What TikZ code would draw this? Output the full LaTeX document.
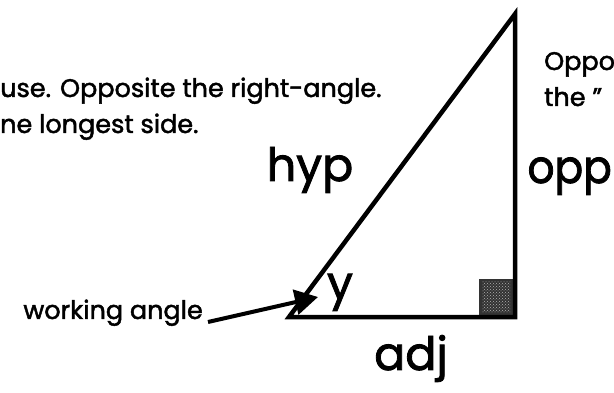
\documentclass[tikz,border=0pt]{standalone}
\usepackage{fontspec}
\setmainfont{Poppins}[FakeBold=1.8]
\usetikzlibrary{arrows.meta,patterns}
\begin{document}
\begin{tikzpicture}[x=1pt,y=-1pt,
  side/.style={line width=4.5pt, line join=miter},
  small/.style={font=\fontsize{25.5}{30}\selectfont, inner sep=0pt},
  big/.style={font=\fontsize{46}{52}\selectfont, inner sep=0pt},
  pointer/.style={line width=4pt, -{Triangle[length=23pt,width=25pt]}}]
\useasboundingbox (0,0) rectangle (614,393);
\fill[white] (0,0) rectangle (614,393);
% right-angle square
\fill[black!80] (479,279) rectangle (515,317);
\fill[pattern=crosshatch dots, pattern color=gray!60] (482,282) rectangle (510,312);
% triangle
\coordinate (A) at (289,317);
\coordinate (B) at (515,317);
\coordinate (C) at (515,14);
\draw[side] (A) -- (B) -- (C) -- cycle;
% texts
\node[small, anchor=base west] (l1) at (0,97) {use. Opposite the right-angle.};
\node[small, anchor=base west] (l2) at (0,133) {ne longest side.};
\node[small, anchor=base west] (r1) at (544,70) {Oppo};
\node[small, anchor=base west] (r2) at (544,106) {the "};
\node[big, anchor=base] (hyp) at (310,181) {hyp};
\node[big, anchor=base east] (opp) at (612,183) {\scalebox{0.92}[1]{opp}};
\node[big, anchor=base] (adj) at (411,370) {adj};
\node[big, anchor=base] (ang) at (340,299) {y};
\node[small, anchor=base east] (wa) at (203,319) {working angle};
% arrow
\coordinate (tip) at (318,297);
\draw[pointer] ([shift={(5pt,-3pt)}]wa.base east) -- (tip);
\end{tikzpicture}
\end{document}
